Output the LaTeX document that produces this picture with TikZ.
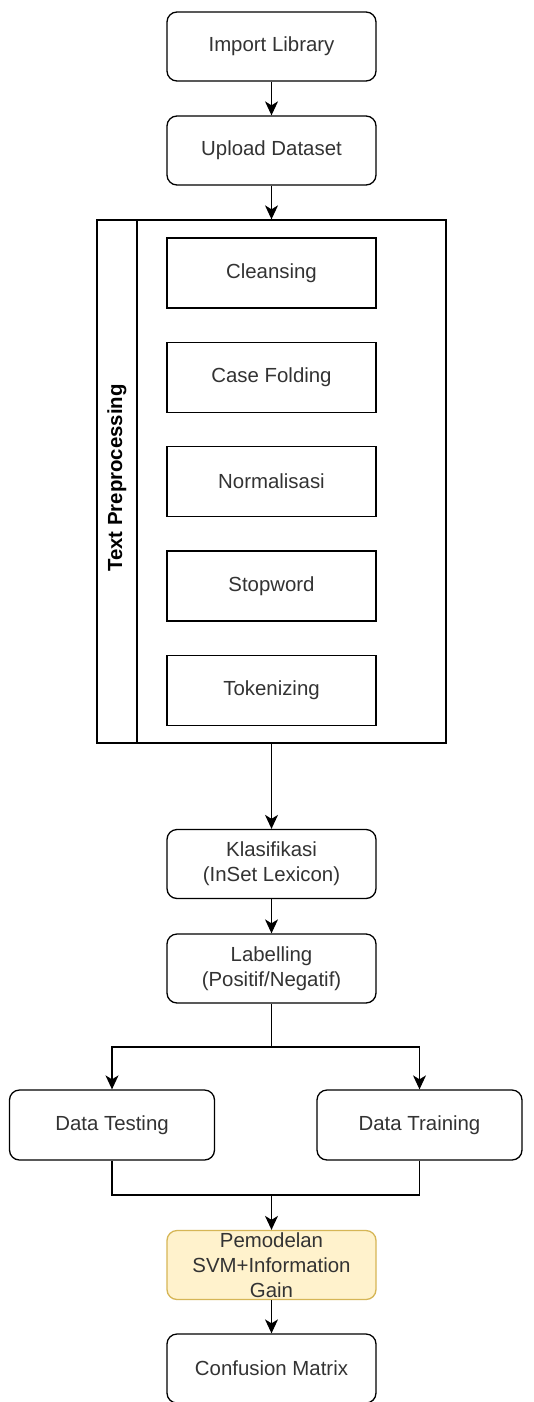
\documentclass[tikz,border=0pt]{standalone}
\usepackage{fontspec}
\setmainfont{Liberation Sans}
\usetikzlibrary{arrows.meta}
\definecolor{txt}{HTML}{333333}
\definecolor{ylwfill}{HTML}{FFF2CC}
\definecolor{ylwdraw}{HTML}{D6B656}
\tikzset{
  base/.style={draw=black, line width=1.3pt, text=txt, align=center,
    font=\fontsize{20.4}{25}\selectfont, inner sep=0pt},
  rbox/.style={base, rounded corners=10pt, minimum width=209pt, minimum height=69pt},
  sbox/.style={base, minimum width=209pt, minimum height=70pt},
  conn/.style={line width=1.3pt, draw=black},
  arr/.style={conn, -{Stealth[length=14pt,width=13pt,inset=4pt]}},
}
\begin{document}
\begin{tikzpicture}[x=1pt,y=-1pt]
\useasboundingbox[fill=white] (0,0) rectangle (533,1402);
% top nodes
\node[rbox] (imp) at (271.5,46.5) {Import Library};
\node[rbox] (upl) at (271.5,150.5) {Upload Dataset};
% container
\node[base, minimum width=349pt, minimum height=523pt] (tp) at (271.5,481.5) {};
\coordinate (lanetop) at (137,220);
\coordinate (lanebot) at (137,743);
\draw[conn] (lanetop) -- (lanebot);
\node[rotate=90, text=black, font=\fontsize{20.4}{25}\selectfont\bfseries] (tpl) at (117,478) {Text Preprocessing};
\node[sbox] (cln) at (271.5,273) {Cleansing};
\node[sbox] (cf) at (271.5,377.3) {Case Folding};
\node[sbox] (nrm) at (271.5,481.6) {Normalisasi};
\node[sbox] (stp) at (271.5,586) {Stopword};
\node[sbox] (tok) at (271.5,690.5) {Tokenizing};
% lower nodes
\node[rbox] (kls) at (271.5,864) {Klasifikasi\\(InSet Lexicon)};
\node[rbox] (lbl) at (271.5,968.5) {Labelling\\(Positif/Negatif)};
\node[rbox, minimum width=205pt, minimum height=70pt] (tst) at (112,1125) {Data Testing};
\node[rbox, minimum width=205pt, minimum height=70pt] (trn) at (419.5,1125) {Data Training};
\node[rbox, fill=ylwfill, draw=ylwdraw] (mdl) at (271.5,1265) {Pemodelan\\SVM+Information\\Gain};
\node[rbox] (cm) at (271.5,1368.5) {Confusion Matrix};
% connectors
\draw[arr] (imp.south) -- (upl.north);
\draw[arr] (upl.south) -- (tp.north);
\draw[arr] (tp.south) -- (kls.north);
\draw[arr] (kls.south) -- (lbl.north);
\coordinate (split) at (271.5,1047);
\coordinate (merge) at (271.5,1195);
\draw[conn] (lbl.south) -- (split);
\draw[arr] (split) -| (tst.north);
\draw[arr] (split) -| (trn.north);
\draw[conn] (tst.south) |- (merge);
\draw[conn] (trn.south) |- (merge);
\draw[arr] (merge) -- (mdl.north);
\draw[arr] (mdl.south) -- (cm.north);
\end{tikzpicture}
\end{document}
